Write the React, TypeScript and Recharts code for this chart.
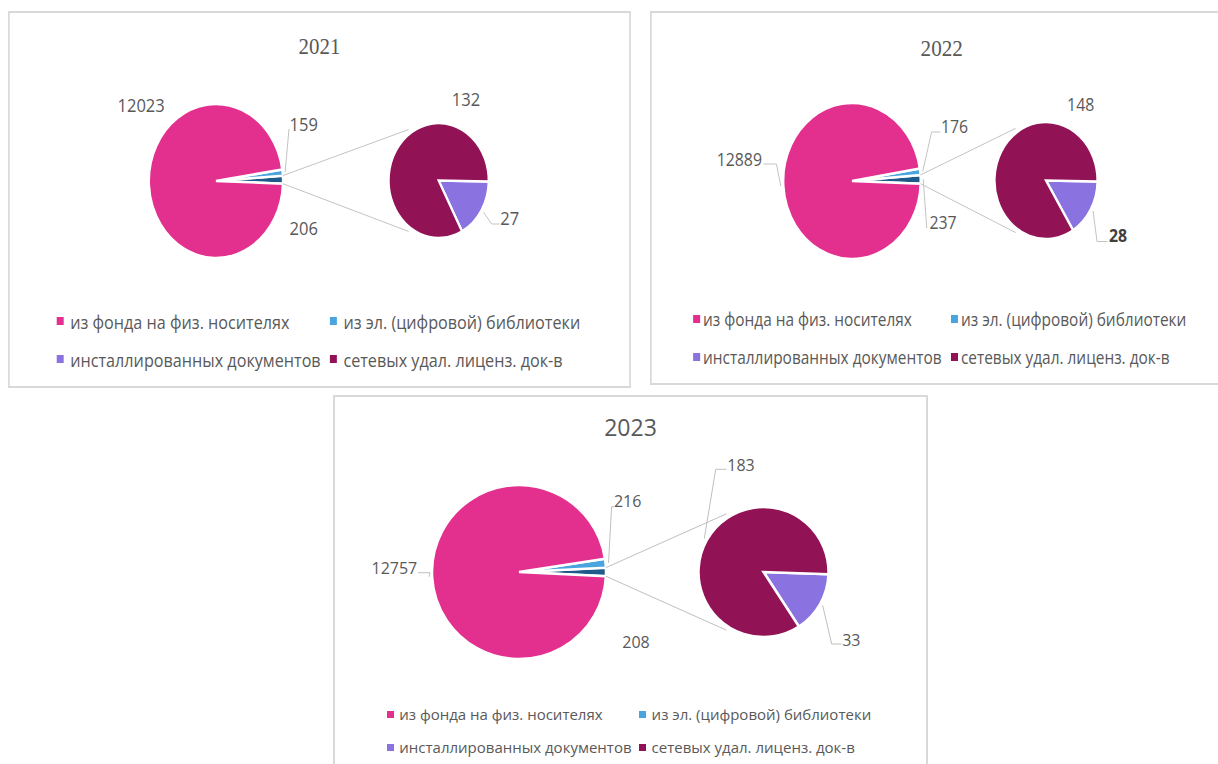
import { PieChart, Pie, Cell, Legend } from "recharts";

const YEARS = ["2021", "2022", "2023"];
const CATEGORIES = [
  "из фонда на физ. носителях",
  "из эл. (цифровой) библиотеки",
  "инсталлированных документов",
  "сетевых удал. лиценз. док-в",
];
const PHYSICAL = [12023, 12889, 12757];
const DIGITAL = [159, 176, 216];
const OTHER = [206, 237, 208];
const INSTALLED = [27, 28, 33];
const NETWORK = [132, 148, 183];

const PINK = "#e3308f";
const SKY = "#4aa5de";
const NAVY = "#1e5b8a";
const VIOLET = "#8a73e0";
const WINE = "#921256";
const LEGEND_COLORS = [PINK, SKY, VIOLET, WINE];
const TEXT = "#595959";
const LINE = "#bfbfbf";
const SANS = '"Open Sans", "Noto Sans", sans-serif';
const SERIF = '"Liberation Serif", "Times New Roman", serif';

type Lbl = { x: number; y: number; path?: [number, number][]; bold?: boolean };

type PanelCfg = {
  left: number;
  top: number;
  w: number;
  h: number;
  sx: number;
  title: { font: string; size: number; y: number };
  labelSize: number;
  main: { cx: number; cy: number; r: number; start: number };
  sub: { cx: number; cy: number; r: number; start: number };
  conn: number;
  mainLabels: Lbl[];
  subLabels: Lbl[];
  legend: { size: number; box: number; gap: number; cols: number[]; rows: number[] };
};

const PANELS: PanelCfg[] = [
  {
    left: 8, top: 11, w: 716, h: 377, sx: 0.87,
    title: { font: SERIF, size: 24, y: 33 },
    labelSize: 19,
    main: { cx: 237, cy: 168, r: 77, start: -2 },
    sub: { cx: 493, cy: 167.5, r: 57.5, start: -1 },
    conn: 124,
    mainLabels: [
      { x: 338, y: 215 },
      { x: 338, y: 111, path: [[321, 116]] },
      { x: 151, y: 92 },
    ],
    subLabels: [
      { x: 574.6, y: 205, path: [[554, 211], [563, 211]] },
      { x: 524.5, y: 86 },
    ],
    legend: { size: 18.6, box: 8, gap: 15.5, cols: [54, 368], rows: [308, 346] },
  },
  {
    left: 650, top: 11, w: 663, h: 374, sx: 0.88,
    title: { font: SERIF, size: 24, y: 35 },
    labelSize: 18,
    main: { cx: 227.5, cy: 168, r: 78, start: -2 },
    sub: { cx: 448, cy: 167.5, r: 58.5, start: -1 },
    conn: 123.5,
    mainLabels: [
      { x: 331, y: 209.7, path: [[312.5, 215]] },
      { x: 344, y: 113.7, path: [[318, 119], [328, 119]] },
      { x: 99.5, y: 146.3, path: [[141.7, 151], [127, 151]] },
    ],
    subLabels: [
      { x: 529.8, y: 223, bold: true, path: [[506, 228.5], [518, 228.5]] },
      { x: 487.4, y: 91.3 },
    ],
    legend: { size: 17.5, box: 8, gap: 11.3, cols: [47, 340], rows: [306.3, 343.7] },
  },
  {
    left: 333, top: 395, w: 595, h: 385, sx: 1,
    title: { font: SANS, size: 23, y: 30.5 },
    labelSize: 16,
    main: { cx: 184, cy: 175, r: 87, start: -2.8 },
    sub: { cx: 428.5, cy: 175, r: 65, start: -2 },
    conn: 122.5,
    mainLabels: [
      { x: 301, y: 245.7 },
      { x: 292.7, y: 104.7, path: [[276.6, 109.7], [279, 109.7]] },
      { x: 59.4, y: 171.3, path: [[95, 175.7], [83, 175.7]] },
    ],
    subLabels: [
      { x: 516.3, y: 243, path: [[496.7, 247], [506.5, 247]] },
      { x: 406, y: 68, path: [[380.7, 72.3], [391.5, 72.3]] },
    ],
    legend: { size: 15, box: 7, gap: 12.6, cols: [51.7, 304], rows: [317, 350] },
  },
];

function polar(cx: number, cy: number, r: number, deg: number) {
  const a = (-deg * Math.PI) / 180;
  return { x: cx + r * Math.cos(a), y: cy + r * Math.sin(a) };
}

function makeLabel(p: PanelCfg, labels: Lbl[], withConnectors: boolean) {
  return (props: any) => {
    const { cx, cy, midAngle, outerRadius, startAngle, endAngle, index, value } = props;
    const cfg = labels[index];
    const fs = p.labelSize;
    const edge = polar(cx, cy, outerRadius + 3, midAngle);
    const pts = cfg.path ? [[edge.x, edge.y], ...cfg.path] : null;

    let connectors = null;
    if (withConnectors && index === 0) {
      const a = polar(cx, cy, outerRadius, endAngle);
      const b = polar(cx, cy, outerRadius, startAngle);
      const s = p.sub;
      const ta = polar(s.cx, s.cy, s.r + 4, p.conn);
      const tb = polar(s.cx, s.cy, s.r + 4, -p.conn);
      connectors = (
        <g stroke={LINE} strokeWidth={1}>
          <line x1={a.x} y1={a.y} x2={ta.x} y2={ta.y} />
          <line x1={b.x} y1={b.y} x2={tb.x} y2={tb.y} />
        </g>
      );
    }

    return (
      <g key={`lbl-${index}`}>
        {connectors}
        {pts && (
          <polyline
            points={pts.map((q) => q.join(",")).join(" ")}
            fill="none"
            stroke={LINE}
            strokeWidth={1}
          />
        )}
        <text
          x={cfg.x}
          y={cfg.y + fs * 0.36}
          textAnchor="middle"
          fontFamily={SANS}
          fontSize={fs}
          fontWeight={cfg.bold ? 700 : 400}
          fill={cfg.bold ? "#404040" : TEXT}
        >
          {value}
        </text>
      </g>
    );
  };
}

function LegendBlock({ p }: { p: PanelCfg }) {
  const L = p.legend;
  const top = L.rows[0] - 25;
  return (
    <div style={{ position: "relative", width: p.w - 4, height: 70 }}>
      {CATEGORIES.map((name, i) => (
        <div
          key={name}
          style={{
            position: "absolute",
            left: L.cols[i % 2],
            top: L.rows[Math.floor(i / 2)] - top - 12,
            height: 24,
            display: "flex",
            alignItems: "center",
            whiteSpace: "nowrap",
            fontFamily: SANS,
            fontSize: L.size,
            color: TEXT,
          }}
        >
          <span
            style={{
              display: "inline-block",
              width: L.box,
              height: L.box,
              background: LEGEND_COLORS[i],
              marginRight: L.gap - L.box,
            }}
          />
          {name}
        </div>
      ))}
    </div>
  );
}

function PieOfPie({ p, i }: { p: PanelCfg; i: number }) {
  const mainData = [
    { name: "прочие", value: OTHER[i], fill: NAVY },
    { name: CATEGORIES[1], value: DIGITAL[i], fill: SKY },
    { name: CATEGORIES[0], value: PHYSICAL[i], fill: PINK },
  ];
  const subData = [
    { name: CATEGORIES[2], value: INSTALLED[i], fill: VIOLET },
    { name: CATEGORIES[3], value: NETWORK[i], fill: WINE },
  ];
  const cw = p.w - 4;
  const ch = p.h - 4;

  return (
    <div
      style={{
        position: "absolute",
        left: p.left,
        top: p.top,
        width: p.w,
        height: p.h,
        boxSizing: "border-box",
        border: "2px solid #d9d9d9",
        background: "#fff",
        transform: `scaleX(${p.sx})`,
        transformOrigin: "0 0",
      }}
    >
      <div
        style={{
          position: "absolute",
          left: 0,
          top: p.title.y - p.title.size * 0.6,
          width: cw,
          lineHeight: `${p.title.size * 1.2}px`,
          textAlign: "center",
          fontFamily: p.title.font,
          fontSize: p.title.size,
          color: TEXT,
        }}
      >
        {YEARS[i]}
      </div>
      <PieChart width={cw} height={ch} margin={{ top: 0, right: 0, bottom: 0, left: 0 }}>
        <Pie
          data={mainData}
          dataKey="value"
          nameKey="name"
          cx={p.main.cx}
          cy={p.main.cy}
          outerRadius={p.main.r}
          startAngle={p.main.start}
          endAngle={p.main.start + 360}
          stroke="#ffffff"
          strokeWidth={2.5}
          label={makeLabel(p, p.mainLabels, true)}
          labelLine={false}
          isAnimationActive={false}
        >
          {mainData.map((d) => (
            <Cell key={d.name} fill={d.fill} />
          ))}
        </Pie>
        <Pie
          data={subData}
          dataKey="value"
          nameKey="name"
          cx={p.sub.cx}
          cy={p.sub.cy}
          outerRadius={p.sub.r}
          startAngle={p.sub.start}
          endAngle={p.sub.start - 360}
          stroke="#ffffff"
          strokeWidth={2.5}
          label={makeLabel(p, p.subLabels, false)}
          labelLine={false}
          isAnimationActive={false}
        >
          {subData.map((d) => (
            <Cell key={d.name} fill={d.fill} />
          ))}
        </Pie>
        <Legend
          verticalAlign="bottom"
          content={() => <LegendBlock p={p} />}
          wrapperStyle={{ left: 0, top: p.legend.rows[0] - 25, bottom: "auto", width: cw, height: 70 }}
        />
      </PieChart>
    </div>
  );
}

export default function App() {
  return (
    <div
      style={{
        position: "absolute",
        left: 0,
        top: 0,
        width: 1218,
        height: 764,
        overflow: "hidden",
        background: "#fff",
      }}
    >
      {PANELS.map((p, i) => (
        <PieOfPie key={YEARS[i]} p={p} i={i} />
      ))}
    </div>
  );
}
